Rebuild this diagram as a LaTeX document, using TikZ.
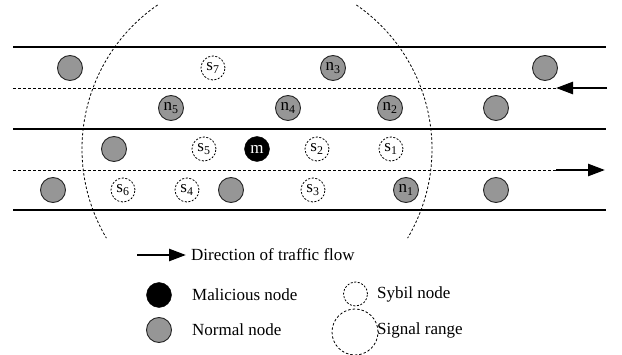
\documentclass[tikz,border=0pt]{standalone}
\usepackage{fontspec}
\setmainfont{Liberation Serif}
\usetikzlibrary{arrows.meta}
\newcommand{\vlab}[2]{#1\textsubscript{#2}}
\tikzset{
  road/.style={line width=1.4pt},
  lane/.style={line width=0.8pt, dash pattern=on 3pt off 2pt},
  normal/.style={circle, draw=black!85, line width=0.9pt, fill={rgb,255:red,150;green,150;blue,150}, minimum size=25pt, inner sep=0pt},
  sybil/.style={circle, draw, line width=0.8pt, dash pattern=on 2pt off 1.6pt, fill=white, minimum size=24pt, inner sep=0pt},
  malicious/.style={circle, draw, fill=black, text=white, minimum size=25pt, inner sep=0pt},
  sigline/.style={line width=0.8pt, dash pattern=on 2.5pt off 2pt},
  flow/.style={line width=2.6pt, -{Triangle[length=17pt,width=12pt]}},
  legtext/.style={anchor=west, inner sep=0pt}
}
\begin{document}
\begin{tikzpicture}[x=1pt,y=1pt,font=\fontsize{17}{20}\selectfont]
\useasboundingbox (0,0) rectangle (622,354);

% road edges and lane dividers
\coordinate (r1a) at (13,307); \coordinate (r1b) at (606,307);
\coordinate (r2a) at (13,225); \coordinate (r2b) at (606,225);
\coordinate (r3a) at (13,144); \coordinate (r3b) at (606,144);
\coordinate (l1a) at (13,266); \coordinate (l1b) at (556,266);
\coordinate (l2a) at (13,184); \coordinate (l2b) at (556,184);
\draw[road] (r1a) -- (r1b);
\draw[road] (r2a) -- (r2b);
\draw[road] (r3a) -- (r3b);
\draw[lane] (l1a) -- (l1b);
\draw[lane] (l2a) -- (l2b);

% traffic direction arrows
\coordinate (f1s) at (607,266);
\coordinate (f2e) at (605,184);
\draw[flow] (f1s) -- (l1b);
\draw[flow] (l2b) -- (f2e);

% signal range of the malicious node
\coordinate (mc) at (257,205);
\draw[sigline] ([shift={(124.6:175)}]mc) arc[start angle=124.6, end angle=210.6, radius=175];
\draw[sigline] ([shift={(55.4:175)}]mc) arc[start angle=55.4, end angle=-30.6, radius=175];

% vehicles, upper road
\node[normal] (a1) at (70,286) {};
\node[sybil]  (s7) at (213,286) {\vlab{s}{7}};
\node[normal] (n3) at (333,286) {\vlab{n}{3}};
\node[normal] (a2) at (545,286) {};
\node[normal] (n5) at (171,246) {\vlab{n}{5}};
\node[normal] (n4) at (288,246) {\vlab{n}{4}};
\node[normal] (n2) at (390,246) {\vlab{n}{2}};
\node[normal] (a3) at (496,246) {};

% vehicles, lower road
\node[normal] (a4) at (114,205) {};
\node[sybil]  (s5) at (204,205) {\vlab{s}{5}};
\node[malicious] (m) at (257,205) {m};
\node[sybil]  (s2) at (317,205) {\vlab{s}{2}};
\node[sybil]  (s1) at (391,205) {\vlab{s}{1}};
\node[normal] (a5) at (53,164) {};
\node[sybil]  (s6) at (123,164) {\vlab{s}{6}};
\node[sybil]  (s4) at (187,164) {\vlab{s}{4}};
\node[normal] (a6) at (231,164) {};
\node[sybil]  (s3) at (313,164) {\vlab{s}{3}};
\node[normal] (n1) at (406,164) {\vlab{n}{1}};
\node[normal] (a7) at (496,164) {};

% legend
\coordinate (k1) at (137,99); \coordinate (k2) at (186,99);
\draw[flow] (k1) -- (k2);
\node[legtext] (t1) at (191,99) {Direction of traffic flow};
\node[malicious] (km) at (159,59) {};
\node[legtext] (t2) at (192,59) {Malicious node};
\node[normal] (kn) at (159,24) {};
\node[legtext] (t3) at (192,24) {Normal node};
\node[sybil] (ks) at (355.5,60) {};
\node[legtext] (t4) at (377,60) {Sybil node};
\node[circle, sigline, draw, minimum size=46pt, inner sep=0pt] (kr) at (355,22) {};
\node[legtext] (t5) at (377,24) {Signal range};
\end{tikzpicture}
\end{document}
